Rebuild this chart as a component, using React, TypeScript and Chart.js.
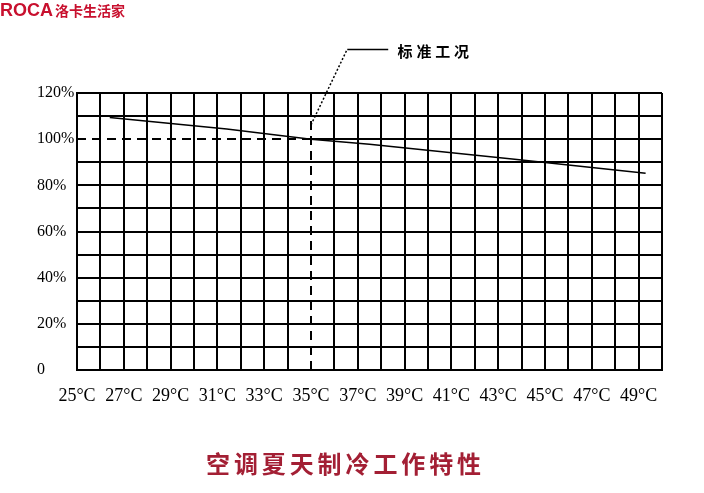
import { useEffect, useRef } from 'react';
import { Chart, registerables } from 'chart.js';

Chart.register(...registerables);

// ---- data ----
const temperatures = [26.4, 31.4, 35, 37.5, 43.7, 49.3];
const capacityPercent = [109.4, 104.4, 100, 97.8, 91.3, 85.2];

const xTickValues = [25, 27, 29, 31, 33, 35, 37, 39, 41, 43, 45, 47, 49];
const xTickLabels = ['25°C', '27°C', '29°C', '31°C', '33°C', '35°C', '37°C', '39°C', '41°C', '43°C', '45°C', '47°C', '49°C'];
const yTickValues = [0, 20, 40, 60, 80, 100, 120];
const yTickLabels = ['0', '20%', '40%', '60%', '80%', '100%', '120%'];

const ratedTemp = 35;
const ratedPercent = 100;
const calloutLabel = '标准工况';
const calloutElbow = { x: 36.55, y: 139 };
const calloutEnd = { x: 38.3, y: 139 };
const calloutStart = { x: 35, y: 106.2 };
const calloutTextX = 38.7;

const chartTitle = '空调夏天制冷工作特性';
const brandLatin = 'ROCA';
const brandChinese = '洛卡生活家';

function drawSpaced(ctx: CanvasRenderingContext2D, text: string, x: number, y: number, step: number) {
  const chars = Array.from(text);
  chars.forEach((c, i) => ctx.fillText(c, x + i * step, y));
}

const annotationPlugin = {
  id: 'annotations',
  beforeDatasetsDraw(chart: any) {
    const { ctx, scales } = chart;
    const x = scales.x;
    const y = scales.y;
    const px = Math.round(x.getPixelForValue(ratedTemp));
    const py = Math.round(y.getPixelForValue(ratedPercent));
    ctx.save();
    ctx.strokeStyle = '#000';
    ctx.lineWidth = 2;
    ctx.beginPath();
    ctx.moveTo(px, y.getPixelForValue(120));
    ctx.lineTo(px, y.getPixelForValue(110));
    ctx.stroke();
    ctx.beginPath();
    ctx.moveTo(px, py);
    ctx.lineTo(x.getPixelForValue(50), py);
    ctx.stroke();
    ctx.setLineDash([9, 6]);
    ctx.beginPath();
    ctx.moveTo(x.getPixelForValue(25), py);
    ctx.lineTo(px, py);
    ctx.stroke();
    ctx.beginPath();
    ctx.moveTo(px, y.getPixelForValue(0));
    ctx.lineTo(px, y.getPixelForValue(110));
    ctx.stroke();
    ctx.restore();
  },
  afterDraw(chart: any) {
    const { ctx, scales } = chart;
    const x = scales.x;
    const y = scales.y;
    ctx.save();
    // callout leader
    ctx.strokeStyle = '#000';
    ctx.lineWidth = 1.5;
    ctx.setLineDash([2, 2]);
    ctx.beginPath();
    ctx.moveTo(x.getPixelForValue(calloutStart.x), y.getPixelForValue(calloutStart.y));
    ctx.lineTo(x.getPixelForValue(calloutElbow.x), y.getPixelForValue(calloutElbow.y));
    ctx.stroke();
    ctx.setLineDash([]);
    ctx.beginPath();
    ctx.moveTo(x.getPixelForValue(calloutElbow.x), Math.round(y.getPixelForValue(calloutElbow.y)) + 0.5);
    ctx.lineTo(x.getPixelForValue(calloutEnd.x), Math.round(y.getPixelForValue(calloutEnd.y)) + 0.5);
    ctx.stroke();
    ctx.fillStyle = '#000';
    ctx.font = 'bold 15px "Noto Sans CJK SC"';
    ctx.textBaseline = 'middle';
    ctx.textAlign = 'left';
    drawSpaced(ctx, calloutLabel, x.getPixelForValue(calloutTextX), y.getPixelForValue(calloutEnd.y) + 2, 18.8);

    // brand
    ctx.fillStyle = '#c8102e';
    ctx.textBaseline = 'alphabetic';
    ctx.font = 'bold 18px "Liberation Sans"';
    ctx.fillText(brandLatin, 0, 15.5);
    ctx.font = 'bold 14px "Noto Sans CJK SC"';
    drawSpaced(ctx, brandChinese, 55, 15.5, 14);

    // title
    ctx.fillStyle = '#a31f34';
    ctx.font = 'bold 24px "Noto Sans CJK SC"';
    ctx.textBaseline = 'middle';
    drawSpaced(ctx, chartTitle, 206, 464, 27.9);
    ctx.restore();
  },
};

export default function App() {
  const canvasRef = useRef<HTMLCanvasElement | null>(null);

  useEffect(() => {
    if (!canvasRef.current) return;
    const chart = new Chart(canvasRef.current, {
      type: 'scatter',
      data: {
        datasets: [
          {
            data: temperatures.map((t, i) => ({ x: t, y: capacityPercent[i] })),
            showLine: true,
            borderColor: '#000',
            borderWidth: 1.5,
            pointRadius: 0,
            fill: false,
          },
        ],
      },
      options: {
        animation: false,
        responsive: false,
        layout: { padding: { top: 93, right: 42, bottom: 0, left: 37 } },
        plugins: { legend: { display: false }, tooltip: { enabled: false }, title: { display: false } },
        scales: {
          x: {
            type: 'linear',
            min: 25,
            max: 50,
            afterFit: (s: any) => {
              s.height = 123;
            },
            afterBuildTicks: (s: any) => {
              const ticks = [];
              for (let v = 25; v <= 50; v++) ticks.push({ value: v });
              s.ticks = ticks;
            },
            grid: {
              drawTicks: false,
              lineWidth: 2,
              color: (c: any) => (c.tick && c.tick.value === ratedTemp ? 'rgba(0,0,0,0)' : '#000'),
            },
            border: { display: true, color: '#000', width: 2 },
            ticks: {
              autoSkip: false,
              maxRotation: 0,
              padding: 15,
              color: '#000',
              font: { family: '"Liberation Serif"', size: 18 },
              callback: (v: any) => {
                const i = xTickValues.indexOf(Number(v));
                return i >= 0 ? xTickLabels[i] : '';
              },
            },
          },
          y: {
            min: 0,
            max: 120,
            afterFit: (s: any) => {
              s.width = 40;
            },
            afterBuildTicks: (s: any) => {
              const ticks = [];
              for (let v = 0; v <= 120; v += 10) ticks.push({ value: v });
              s.ticks = ticks;
            },
            grid: {
              drawTicks: false,
              lineWidth: 2,
              color: (c: any) => (c.tick && c.tick.value === ratedPercent ? 'rgba(0,0,0,0)' : '#000'),
            },
            border: { display: true, color: '#000', width: 2 },
            ticks: {
              autoSkip: false,
              crossAlign: 'far',
              padding: 2,
              color: '#000',
              font: { family: '"Liberation Serif"', size: 16 },
              callback: (v: any) => {
                const i = yTickValues.indexOf(Number(v));
                return i >= 0 ? yTickLabels[i] : '';
              },
            },
          },
        },
      },
      plugins: [annotationPlugin],
    });
    return () => chart.destroy();
  }, []);

  return (
    <div style={{ position: 'fixed', left: 0, top: 0, width: 704, height: 493, background: '#fff' }}>
      <canvas ref={canvasRef} width={704} height={493} style={{ width: 704, height: 493, display: 'block' }} />
    </div>
  );
}
